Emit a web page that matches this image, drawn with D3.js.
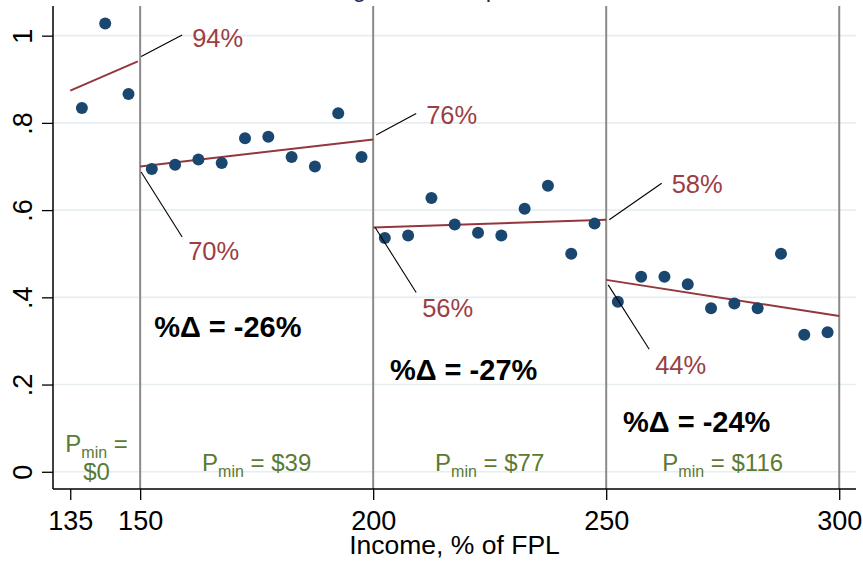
<!DOCTYPE html>
<html>
<head>
<meta charset="utf-8">
<script src="https://cdn.jsdelivr.net/npm/d3@7"></script>
<style>
  html, body { margin: 0; padding: 0; background: #fff; }
  svg { display: block; font-family: "Liberation Sans", Arial, Helvetica, sans-serif; }
</style>
</head>
<body>
<svg id="chart" width="863" height="561"></svg>
<script>
// ---------- data ----------
const income = [137.5, 142.5, 147.5,
  152.5, 157.5, 162.5, 167.5, 172.5, 177.5, 182.5, 187.5, 192.5, 197.5,
  202.5, 207.5, 212.5, 217.5, 222.5, 227.5, 232.5, 237.5, 242.5, 247.5,
  252.5, 257.5, 262.5, 267.5, 272.5, 277.5, 282.5, 287.5, 292.5, 297.5];
const enrollment = [0.834, 1.028, 0.866,
  0.694, 0.704, 0.716, 0.708, 0.765, 0.768, 0.722, 0.700, 0.822, 0.722,
  0.536, 0.542, 0.628, 0.567, 0.548, 0.542, 0.603, 0.656, 0.500, 0.569,
  0.390, 0.447, 0.447, 0.430, 0.375, 0.386, 0.375, 0.500, 0.314, 0.320];

const thresholds = [150, 200, 250, 300];
const fitStartX = [135, 150, 200, 250];
const fitEndX   = [149.5, 200, 250, 300];
const fitStartY = [0.874, 0.700, 0.560, 0.440];
const fitEndY   = [0.941, 0.762, 0.578, 0.357];

const valueLabels = ["94%", "70%", "76%", "56%", "58%", "44%"];
const valueLabelX = [150, 150, 200, 200, 250, 250];
const valueLabelY = [0.943, 0.700, 0.762, 0.560, 0.578, 0.440];

const deltaLabels = ["%Δ = -26%", "%Δ = -27%", "%Δ = -24%"];
const deltaX = [153, 203.6, 253.6];
const deltaY = [0.31, 0.21, 0.092];

const pminValues = ["$0", "$39", "$77", "$116"];

const yTicks = [0, 0.2, 0.4, 0.6, 0.8, 1];
const yTickLabels = ["0", ".2", ".4", ".6", ".8", "1"];
const xTicks = [135, 150, 200, 250, 300];

const titleText = "Program Take-up Rate";
const xTitle = "Income, % of FPL";

// ---------- layout (pixel offsets of leader lines / labels, styling only) ----------
const leaderStart = [[1, -4], [1, 5.5], [3, -4.5], [2, 0], [3, 0], [2, 5]];
const leaderEnd   = [[42, -25.5], [42, 70.5], [43, -26], [43, 65], [55.5, -36.4], [43, 69.4]];
const textOffset  = [[52, -14], [48, 93.5], [53, -15.5], [49, 89.5], [65.5, -26.4], [49, 94.4]];

// ---------- setup ----------
const svg = d3.select("#chart");
const plotL = 53, plotR = 856, plotT = 6, plotB = 489;
const x = d3.scaleLinear().domain([131.3, 303.6]).range([plotL, plotR]);
const y = d3.scaleLinear().domain([-0.0395, 1.068]).range([plotB, plotT]);

const navy = "#1a476f", maroon = "#93363d", green = "#5b7a33";

// title (mostly above the visible area, as in the original)
svg.append("text").attr("x", 436).attr("y", -3)
  .attr("text-anchor", "middle").attr("font-size", 24)
  .attr("fill", "#1c2c5c").text(titleText);

// gridlines
svg.append("g").selectAll("line").data(yTicks).join("line")
  .attr("x1", plotL).attr("x2", plotR)
  .attr("y1", d => y(d)).attr("y2", d => y(d))
  .attr("stroke", "#e6eef1").attr("stroke-width", 1.6);

// threshold lines
svg.append("g").selectAll("line").data(thresholds).join("line")
  .attr("x1", d => x(d)).attr("x2", d => x(d))
  .attr("y1", plotT).attr("y2", plotB)
  .attr("stroke", "#8a8a8a").attr("stroke-width", 2);

// axes
const xAxis = d3.axisBottom(x).tickValues(xTicks).tickSize(11).tickFormat(d3.format("d"));
const gx = svg.append("g").attr("transform", `translate(0,${plotB})`).call(xAxis);
gx.select(".domain").attr("stroke", "#000").attr("stroke-width", 1.5)
  .attr("d", `M${plotL},0H${plotR}`);
gx.selectAll(".tick line").attr("stroke", "#000").attr("stroke-width", 1.3);
gx.selectAll(".tick text").attr("font-size", 27).attr("fill", "#000")
  .attr("font-family", "'Liberation Sans', Arial, sans-serif")
  .attr("dy", null).attr("y", 41);

const yAxis = d3.axisLeft(y).tickValues(yTicks).tickSize(11).tickFormat((d, i) => yTickLabels[i]);
const gy = svg.append("g").attr("transform", `translate(${plotL},0)`).call(yAxis);
gy.select(".domain").attr("stroke", "#000").attr("stroke-width", 1.5)
  .attr("d", `M0,${plotT}V${plotB}`);
gy.selectAll(".tick line").attr("stroke", "#000").attr("stroke-width", 1.3);
gy.selectAll(".tick text").remove();
gy.selectAll(".tick").append("text")
  .attr("transform", "translate(-21,0) rotate(-90)")
  .attr("text-anchor", "middle").attr("font-size", 27).attr("fill", "#000")
  .attr("font-family", "'Liberation Sans', Arial, sans-serif")
  .text((d, i) => yTickLabels[i]);

svg.append("text").attr("x", (plotL + plotR) / 2).attr("y", 554)
  .attr("text-anchor", "middle").attr("font-size", 26.5).attr("fill", "#000")
  .text(xTitle);

// fit lines
svg.append("g").selectAll("line").data(fitStartX).join("line")
  .attr("x1", (d, i) => x(fitStartX[i])).attr("x2", (d, i) => x(fitEndX[i]))
  .attr("y1", (d, i) => y(fitStartY[i])).attr("y2", (d, i) => y(fitEndY[i]))
  .attr("stroke", maroon).attr("stroke-width", 2);

// dots
svg.append("g").selectAll("circle").data(income).join("circle")
  .attr("cx", d => x(d)).attr("cy", (d, i) => y(enrollment[i]))
  .attr("r", 6).attr("fill", navy);

// value labels with leader lines
const lab = svg.append("g");
valueLabels.forEach((t, i) => {
  const px = x(valueLabelX[i]), py = y(valueLabelY[i]);
  lab.append("line")
    .attr("x1", px + leaderStart[i][0]).attr("y1", py + leaderStart[i][1])
    .attr("x2", px + leaderEnd[i][0]).attr("y2", py + leaderEnd[i][1])
    .attr("stroke", "#000").attr("stroke-width", 1.1);
  lab.append("text").attr("x", px + textOffset[i][0]).attr("y", py + textOffset[i][1])
    .attr("font-size", 25.5).attr("fill", "#9b3e45").text(t);
});

// delta labels
svg.append("g").selectAll("text").data(deltaLabels).join("text")
  .attr("x", (d, i) => x(deltaX[i])).attr("y", (d, i) => y(deltaY[i]))
  .attr("font-size", 29).attr("font-weight", "bold").attr("fill", "#000")
  .text(d => d);

// Pmin labels
const pg = svg.append("g").attr("fill", green);
function pmin(g, cx, yb, value, twoLine) {
  const t = g.append("text").attr("x", cx).attr("y", yb).attr("text-anchor", "middle").attr("font-size", 24);
  t.append("tspan").text("P");
  t.append("tspan").attr("font-size", 16).attr("dy", 6).text("min");
  t.append("tspan").attr("dy", -6).text(twoLine ? " =" : " = " + value);
  if (twoLine) {
    g.append("text").attr("x", cx).attr("y", yb + 28).attr("text-anchor", "middle")
      .attr("font-size", 24).text(value);
  }
}
const segLeft = [x.domain()[0], 150, 200, 250];
const segRight = [150, 200, 250, 300];
pminValues.forEach((v, i) => {
  const cx = (x(segLeft[i]) + x(segRight[i])) / 2;
  if (i === 0) pmin(pg, cx, y(0) - 20, v, true);
  else pmin(pg, cx, y(0) - 1, v, false);
});
</script>
</body>
</html>
